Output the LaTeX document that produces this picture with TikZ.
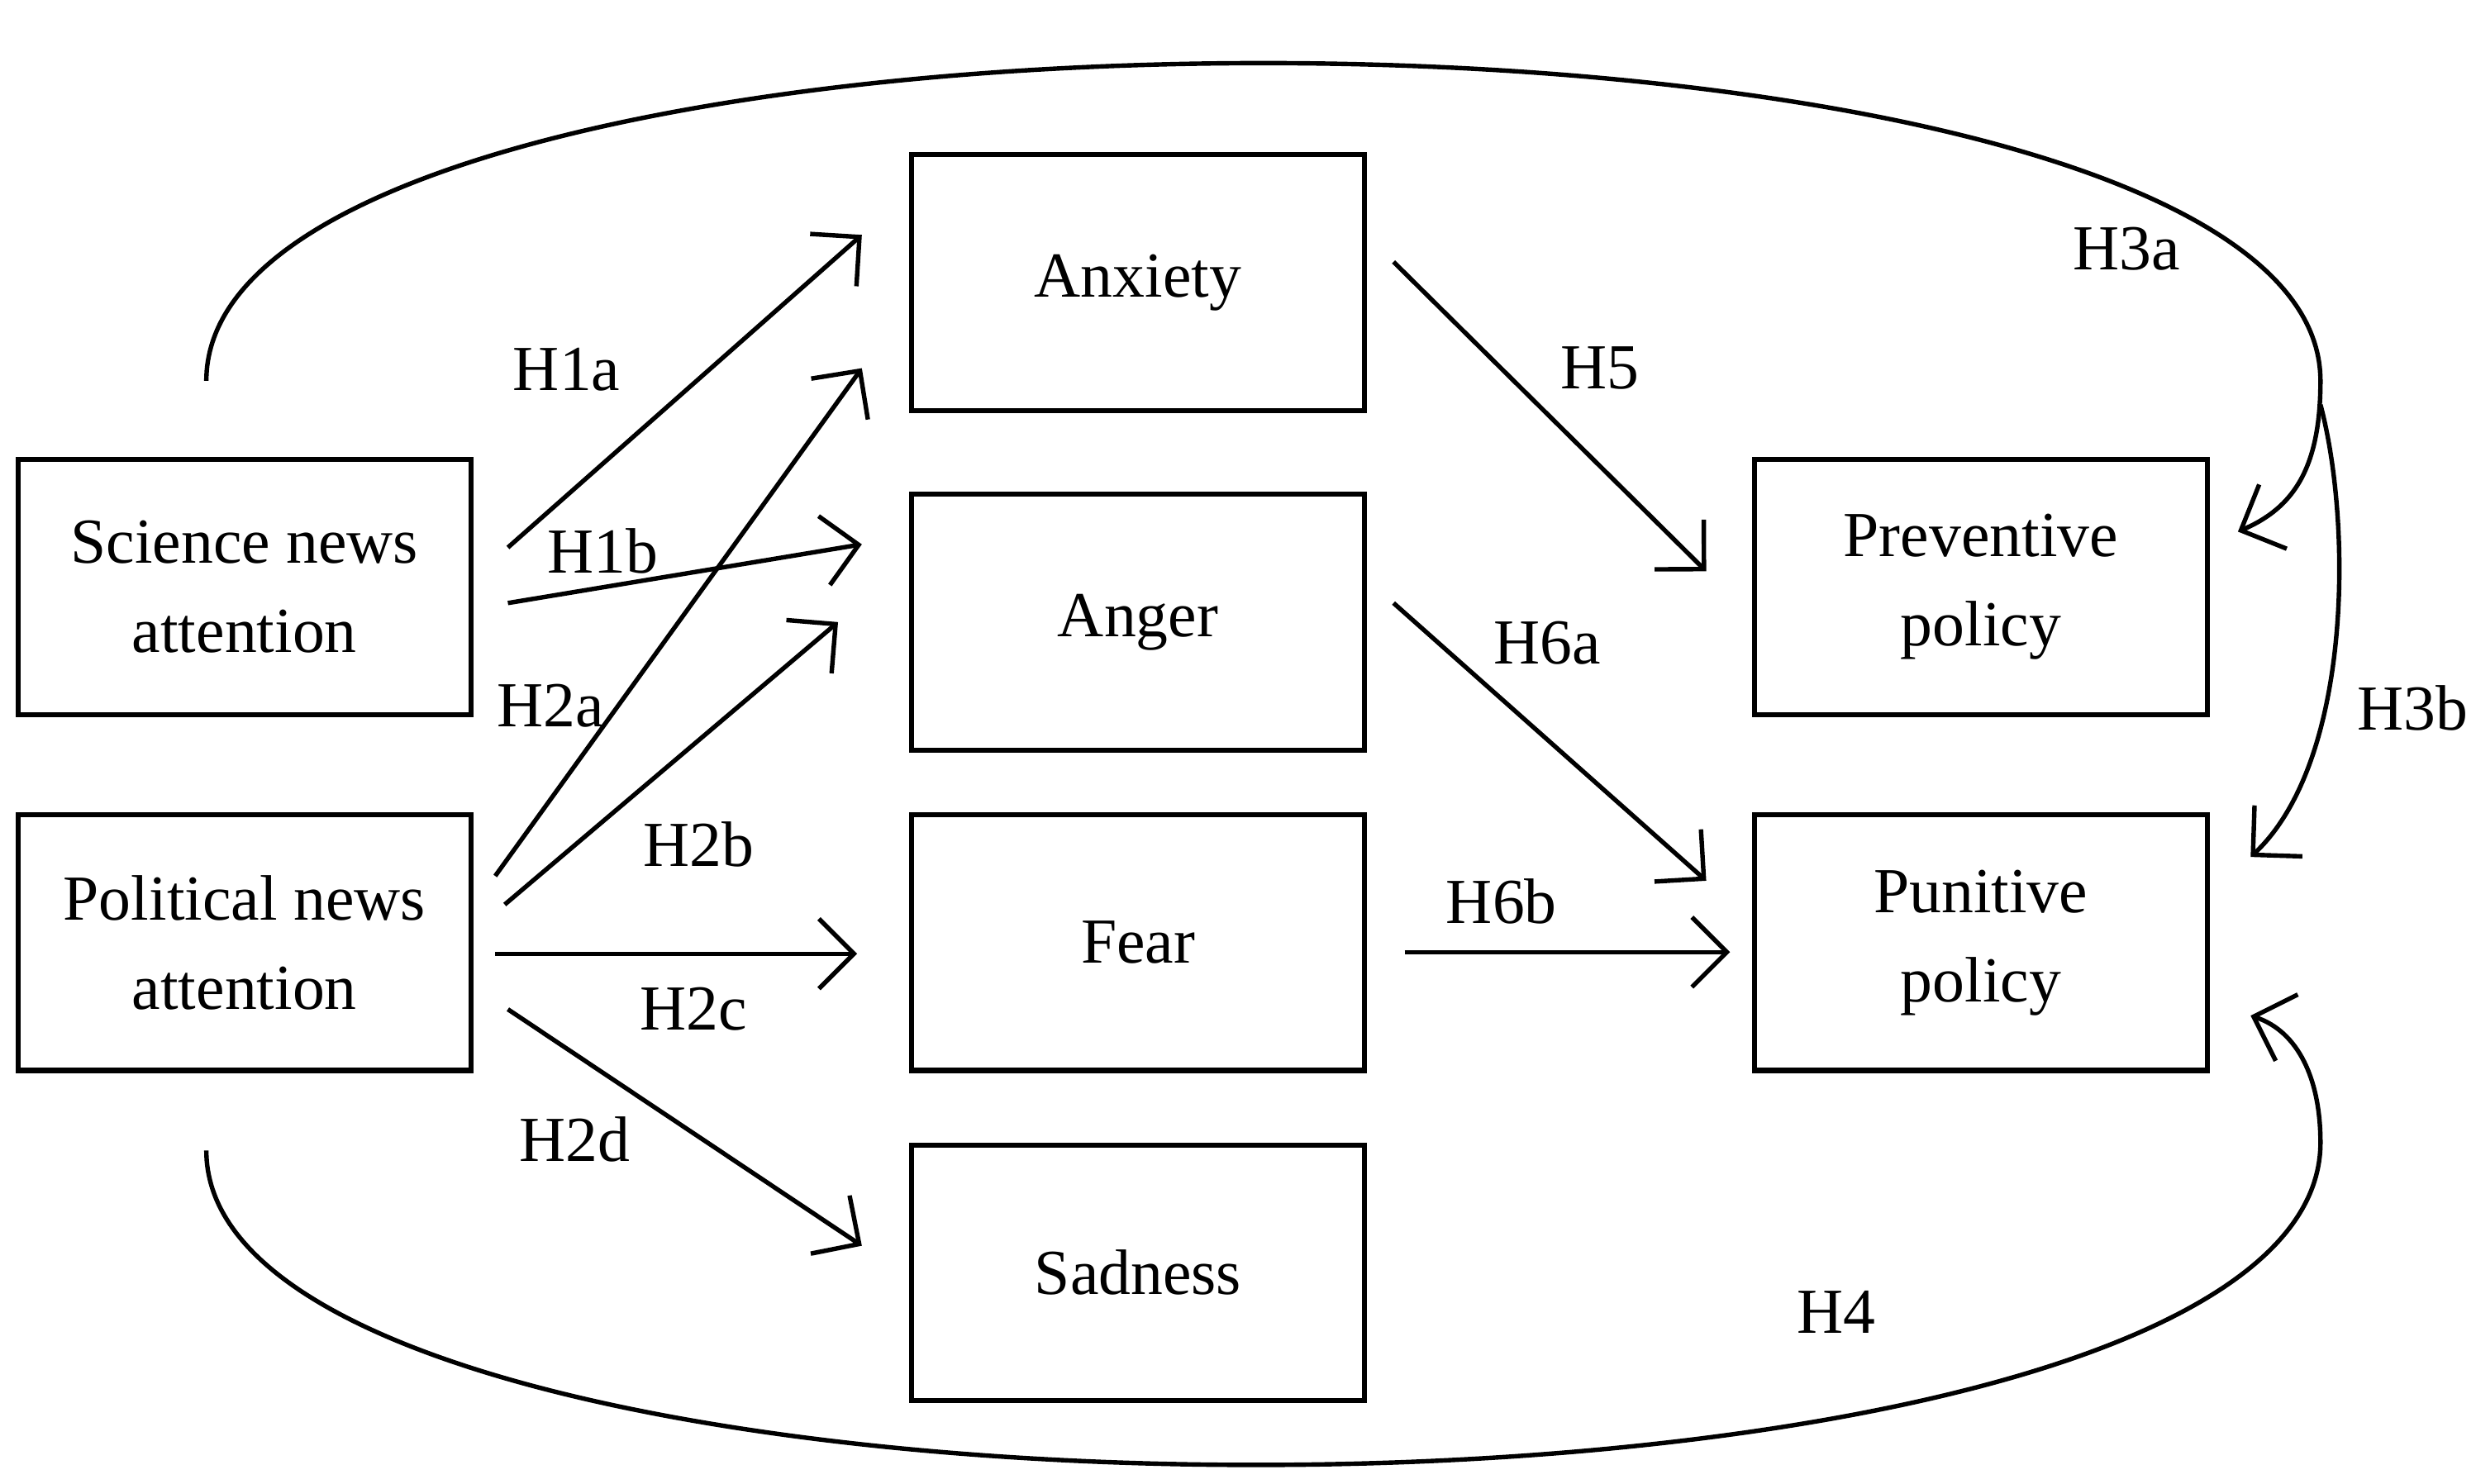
\documentclass[tikz,border=0pt]{standalone}
\usepackage{fontspec}
\setmainfont{Liberation Serif}
\usetikzlibrary{arrows.meta}
\begin{document}
\begin{tikzpicture}[x=0.01cm,y=-0.01cm,
  box/.style={draw,line width=0.9pt,minimum width=2.85cm,minimum height=1.61cm,align=center,font=\fontsize{11.5}{16}\selectfont,inner sep=0pt},
  lab/.style={font=\fontsize{11.5}{14}\selectfont},
  arr/.style={line width=0.8pt,-{Straight Barb[length=2.2mm,width=4.4mm,line width=0.8pt]}},
  crv/.style={line width=0.8pt}]
\useasboundingbox (0,0) rectangle (1560,935);
\node[box] (sci) at (154,370) {Science news\\attention};
\node[box] (pol) at (154,594) {Political news\\attention};
\node[box] (anx) at (717,178) {Anxiety};
\node[box] (ang) at (717,392) {Anger};
\node[box] (fea) at (717,594) {Fear};
\node[box] (sad) at (717,802) {Sadness};
\node[box] (pre) at (1248,370) {Preventive\\policy};
\node[box] (pun) at (1248,594) {Punitive\\policy};
\coordinate (a1) at (320,345); \coordinate (b1) at (543,148);
\coordinate (a2) at (320,380); \coordinate (b2) at (543,343);
\coordinate (a3) at (312,552); \coordinate (b3) at (543,232);
\coordinate (a4) at (318,570); \coordinate (b4) at (528,392);
\coordinate (a5) at (312,601); \coordinate (b5) at (540,601);
\coordinate (a6) at (320,636); \coordinate (b6) at (543,785);
\coordinate (a7) at (878,165); \coordinate (b7) at (1075,360);
\coordinate (a8) at (878,380); \coordinate (b8) at (1075,555);
\coordinate (a9) at (885,600); \coordinate (b9) at (1090,600);
\draw[arr] (a1) -- (b1);
\draw[arr] (a2) -- (b2);
\draw[arr] (a3) -- (b3);
\draw[arr] (a4) -- (b4);
\draw[arr] (a5) -- (b5);
\draw[arr] (a6) -- (b6);
\draw[arr] (a7) -- (b7);
\draw[arr] (a8) -- (b8);
\draw[arr] (a9) -- (b9);
\coordinate (s3) at (130,240); \coordinate (m3) at (1462,240); \coordinate (e3) at (1410,335);
\coordinate (s3b) at (1462,255); \coordinate (e3b) at (1418,540);
\coordinate (s4) at (130,725); \coordinate (m4) at (1462,720); \coordinate (e4) at (1418,640);
\draw[crv] (s3) .. controls (130,-27) and (1462,-27) .. (m3);
\draw[arr] (m3) .. controls (1462,295) and (1445,320) .. (e3);
\draw[arr] (s3b) .. controls (1482,330) and (1482,480) .. (e3b);
\draw[crv] (s4) .. controls (130,990) and (1462,990) .. (m4);
\draw[arr] (m4) .. controls (1462,680) and (1448,650) .. (e4);
\node[lab] at (1340,157) {H3a};
\node[lab] at (357,233) {H1a};
\node[lab] at (380,347) {H1b};
\node[lab] at (347,445) {H2a};
\node[lab] at (440,532) {H2b};
\node[lab] at (437,636) {H2c};
\node[lab] at (362,718) {H2d};
\node[lab] at (1008,232) {H5};
\node[lab] at (975,405) {H6a};
\node[lab] at (946,568) {H6b};
\node[lab] at (1520,446) {H3b};
\node[lab] at (1157,827) {H4};
\end{tikzpicture}
\end{document}
